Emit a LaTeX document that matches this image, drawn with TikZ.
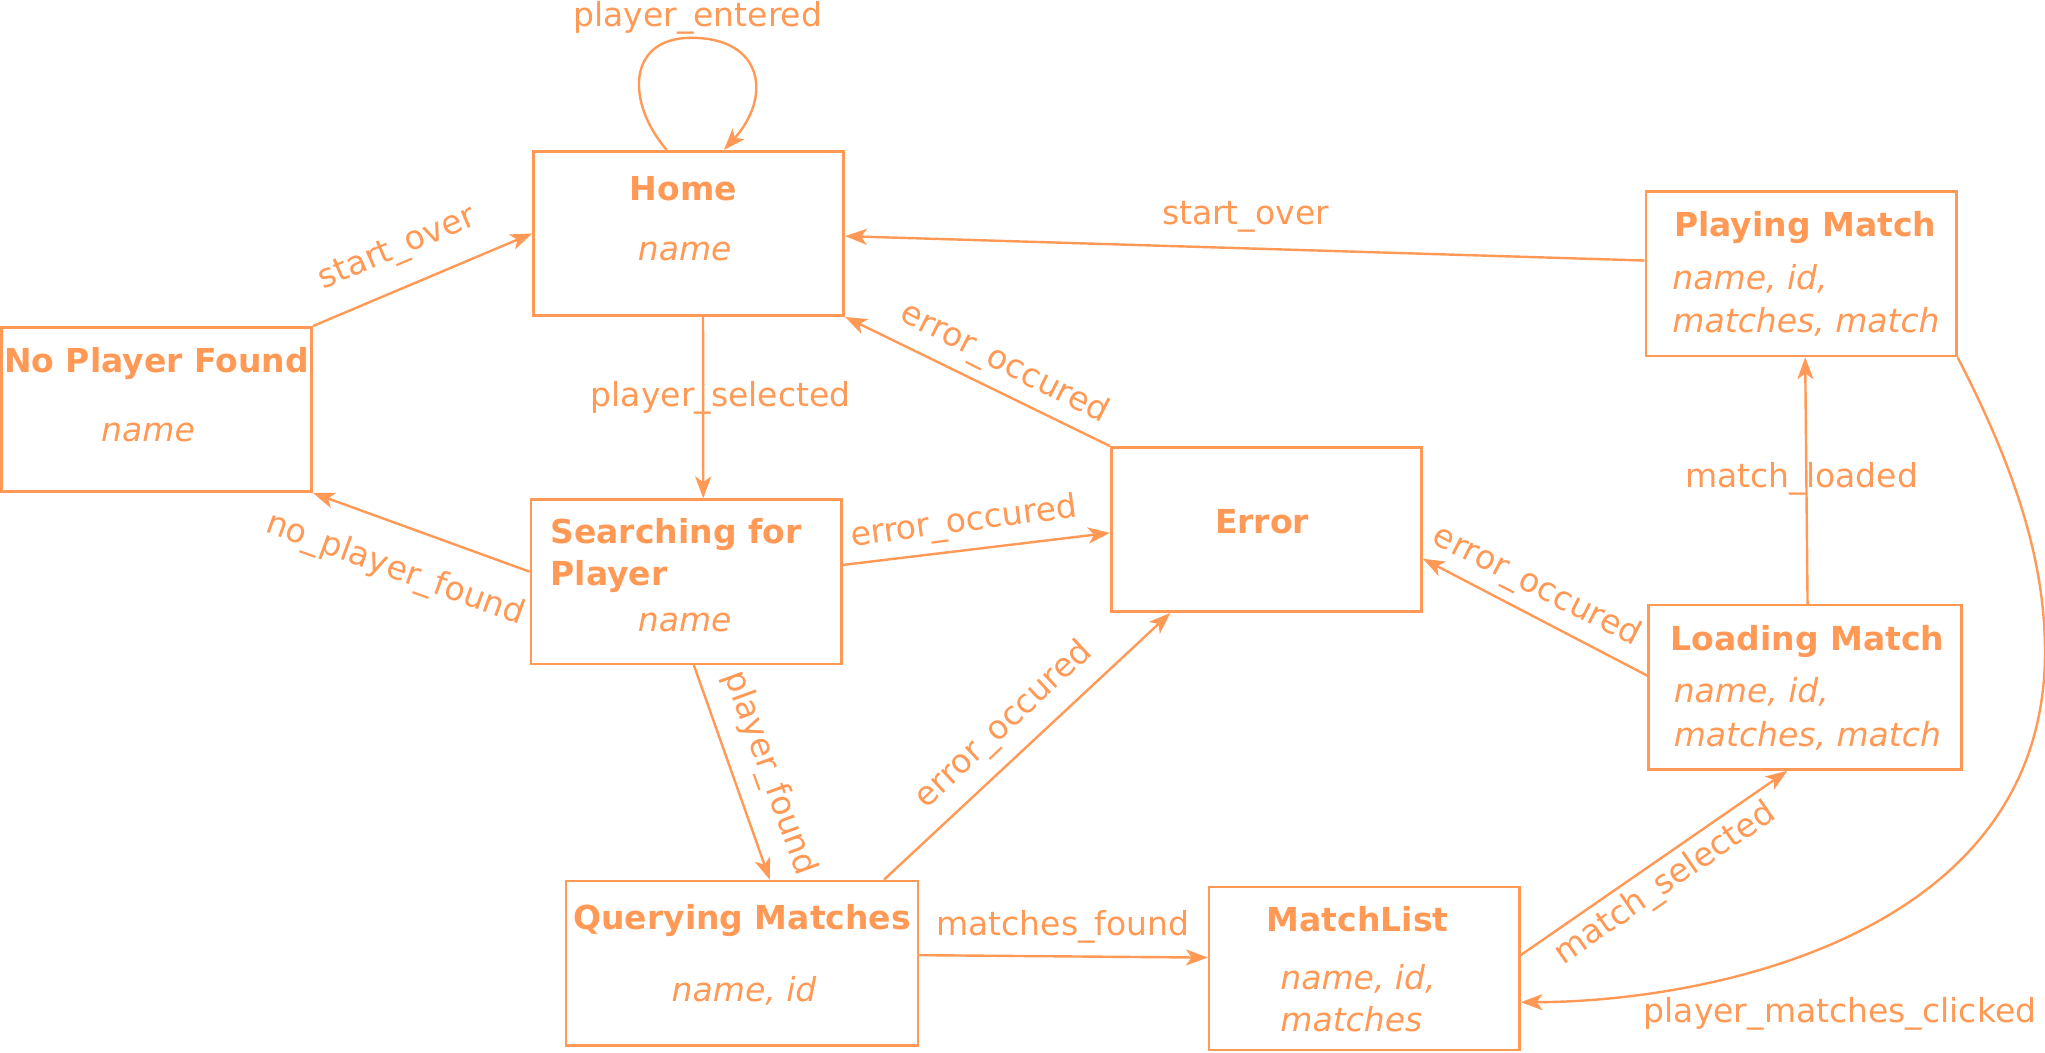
\documentclass[tikz,border=0pt]{standalone}
\usepackage{fontspec}
\setmainfont{DejaVu Sans}
\usetikzlibrary{positioning,arrows.meta,calc}
\definecolor{stc}{HTML}{FF9955}

\begin{document}
\begin{tikzpicture}[x=0.02cm, y=-0.02cm,
  every node/.style={font=\fontsize{14.4}{17}\selectfont, text=stc, inner sep=0pt},
  statebox/.style={draw=stc, line width=1.15pt, rectangle, inner sep=0pt,
    minimum width=4.76cm, minimum height=2.52cm},
  title/.style={font=\fontsize{14.4}{17}\selectfont\bfseries},
  attr/.style={font=\fontsize{14.4}{17}\selectfont\itshape},
  evt/.style={inner sep=0pt},
  trans/.style={draw=stc, line width=1.05pt,
    -{Stealth[length=9.5pt,width=7pt,inset=2.5pt]}}]
  \useasboundingbox (0,0) rectangle (1568,806.7);

  %----- states -----
  \node[statebox] (home)    at (528,179)   {};
  \node[statebox] (nopf)    at (120,314)   {};
  \node[statebox] (search)  at (526,446)   {};
  \node[statebox] (error)   at (971,406)   {};
  \node[statebox] (playing) at (1381,210)  {};
  \node[statebox, minimum width=4.8cm] (loading) at (1384,527) {};
  \node[statebox, minimum width=5.4cm] (query)   at (569,738.5) {};
  \node[statebox, minimum height=2.5cm] (mlist)  at (1046,742.5) {};

  %----- state names and data -----
  \node[title, anchor=base] (hometitle) at (524,153.4) {Home};
  \node[attr, anchor=base]  (homeattr)  at (525,200)   {name};
  \node[title, anchor=base] (nopftitle) at (120,285.8) {No Player Found};
  \node[attr, anchor=base]  (nopfattr)  at (113.5,338.7) {name};
  \node[title, anchor=base west] (searchtitle)  at (421.8,416.7) {Searching for};
  \node[title, anchor=base west] (searchtitleb) at (421.8,448.6) {Player};
  \node[attr, anchor=base]  (searchattr) at (525,484.4) {name};
  \node[title, anchor=base] (errortitle) at (967.7,409) {Error};
  \node[title, anchor=base] (playingtitle) at (1384,181.5) {Playing Match};
  \node[attr, anchor=base west] (playingattr)  at (1282,222) {name, id,};
  \node[attr, anchor=base west] (playingattrb) at (1282,255) {matches, match};
  \node[title, anchor=base] (loadingtitle) at (1386,498.5) {Loading Match};
  \node[attr, anchor=base west] (loadingattr)  at (1283,539) {name, id,};
  \node[attr, anchor=base west] (loadingattrb) at (1283,572) {matches, match};
  \node[title, anchor=base] (querytitle) at (569,713) {Querying Matches};
  \node[attr, anchor=base]  (queryattr)  at (570.5,768) {name, id};
  \node[title, anchor=base] (mlisttitle) at (1041,714.5) {MatchList};
  \node[attr, anchor=base west] (mlistattr)  at (981.4,759) {name, id,};
  \node[attr, anchor=base west] (mlistattrb) at (981.4,791) {matches};

  %----- transitions -----
  % home self loop
  \draw[trans] ($(home.north west)!0.43!(home.north east)$)
    .. controls +(-31,-36) and +(-50,0) .. ++(19,-86)
    .. controls +(55,0) and +(37,-41) .. ($(home.north west)!0.613!(home.north east)$);
  \draw[trans] ($(playing.north west)!0.42!(playing.south west)$)
    -- ($(home.north east)!0.516!(home.south east)$);
  \draw[trans] (nopf.north east) -- (home.west);
  \draw[trans] ($(home.south west)!0.546!(home.south east)$)
    -- ($(search.north west)!0.555!(search.north east)$);
  \draw[trans] ($(search.north west)!0.44!(search.south west)$) -- (nopf.south east);
  \draw[trans] (error.north west) -- (home.south east);
  \draw[trans] ($(search.north east)!0.4!(search.south east)$)
    -- ($(error.north west)!0.52!(error.south west)$);
  \draw[trans] ($(search.south west)!0.525!(search.south east)$)
    -- ($(query.north west)!0.578!(query.north east)$);
  \draw[trans] ($(query.north west)!0.9!(query.north east)$)
    -- ($(error.south west)!0.193!(error.south east)$);
  \draw[trans] ($(query.north east)!0.452!(query.south east)$)
    -- ($(mlist.north west)!0.435!(mlist.south west)$);
  \draw[trans] ($(mlist.north east)!0.42!(mlist.south east)$)
    -- ($(loading.south west)!0.444!(loading.south east)$);
  \draw[trans] ($(loading.north west)!0.43!(loading.south west)$)
    -- ($(error.north east)!0.675!(error.south east)$);
  \draw[trans] ($(loading.north west)!0.508!(loading.north east)$)
    -- ($(playing.south west)!0.513!(playing.south east)$);
  % back to the match list
  \draw[trans] (playing.south east)
    .. controls +(45,87) and +(0,-69) .. ++(67,226)
    .. controls +(0,221) and +(136,0) .. ($(mlist.north east)!0.704!(mlist.south east)$);

  %----- events -----
  \node[evt, anchor=base] (lblentered)  at (535,20.4)  {player\_entered};
  \node[evt, anchor=base] (lblstarttop) at (955,172.5) {start\_over};
  \node[evt, rotate=23]   (lblstartleft) at (305,191.5) {start\_over};
  \node[evt, rotate=-20]  (lblnoplayer) at (303,437)   {no\_player\_found};
  \node[evt]              (lblselected) at (552.5,305) {player\_selected};
  \node[evt, rotate=-27]  (lblerrhome)  at (770,279)   {error\_occured};
  \node[evt, rotate=7.5]  (lblerrsearch) at (739,401)  {error\_occured};
  \node[evt, rotate=-27]  (lblerrload)  at (1178,450)  {error\_occured};
  \node[evt, rotate=43]   (lblerrquery) at (770,556)   {error\_occured};
  \node[evt, rotate=-70]  (lblfound)    at (590,593)   {player\_found};
  \node[evt, anchor=base] (lblmfound)   at (815,717)   {matches\_found};
  \node[evt, rotate=34.5] (lblmselected) at (1277,678) {match\_selected};
  \node[evt, anchor=base] (lblloaded)   at (1381.5,373.6) {match\_loaded};
  \node[evt, anchor=base] (lblclicked)  at (1410.8,784) {player\_matches\_clicked};
\end{tikzpicture}
\end{document}
